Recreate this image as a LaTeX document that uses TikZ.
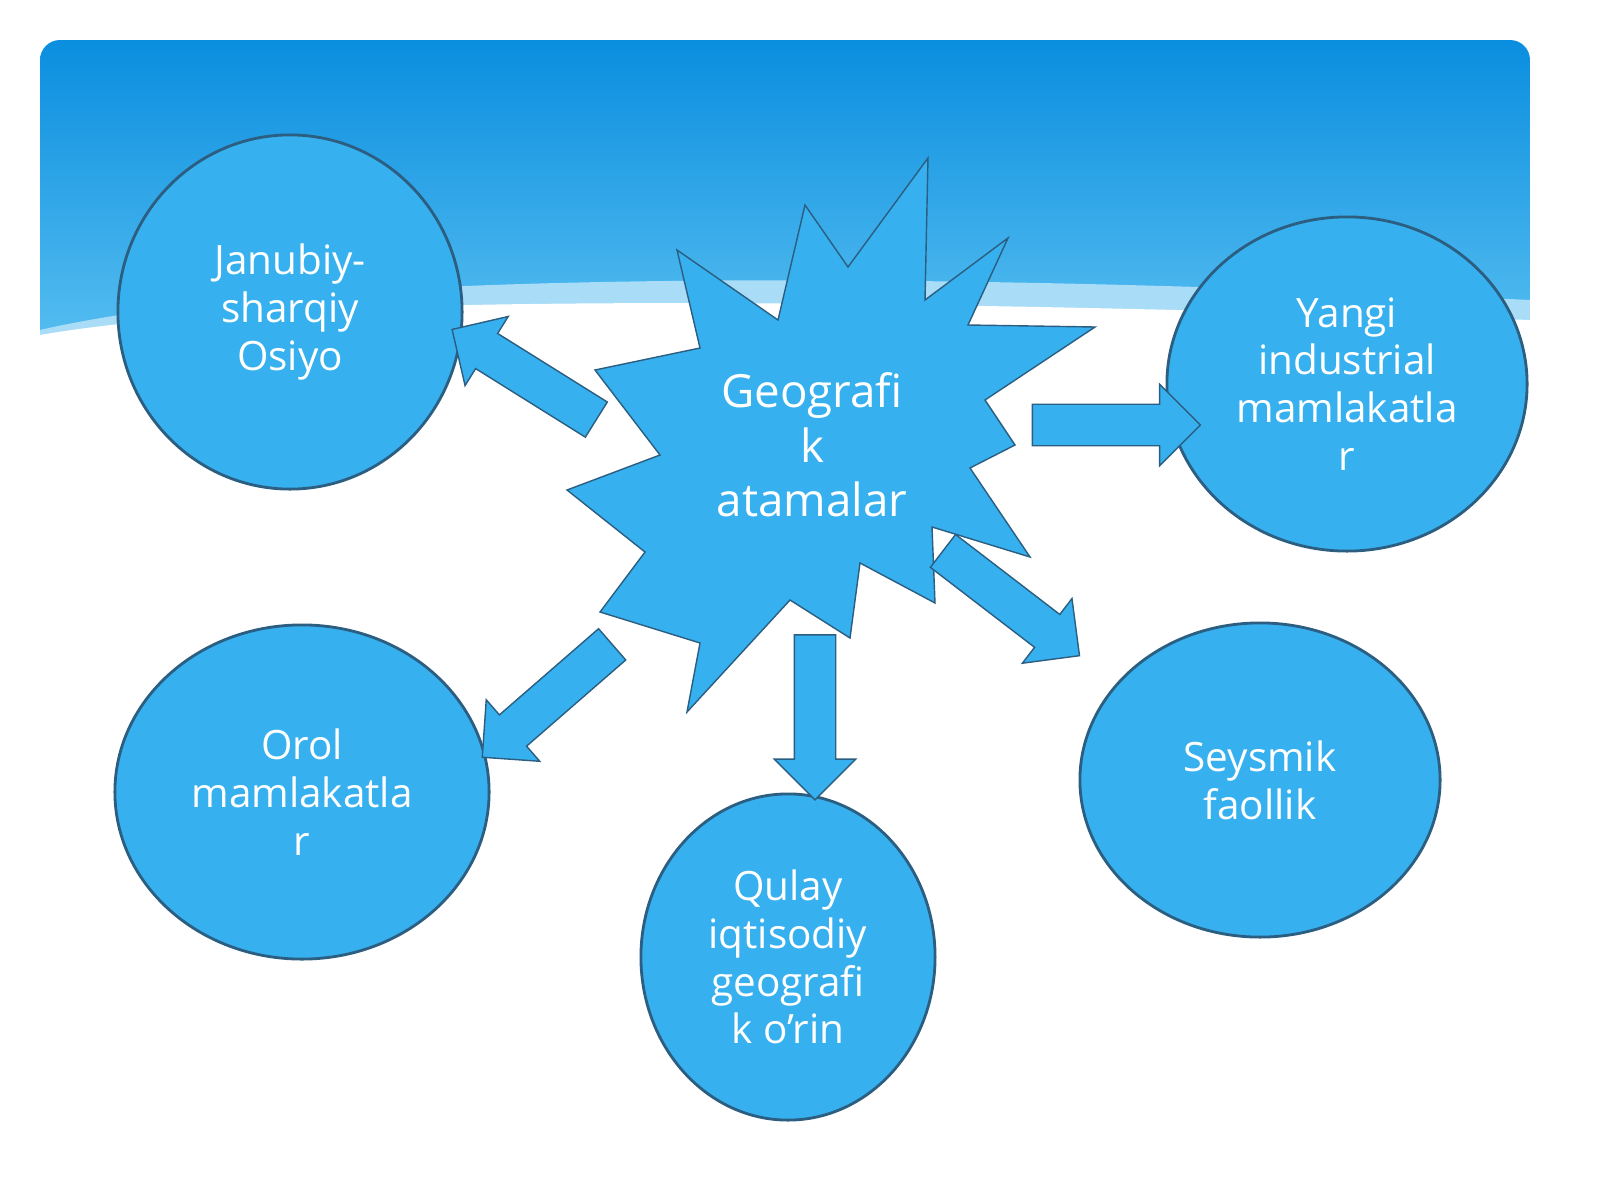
\documentclass[tikz,border=0pt]{standalone}
\usepackage{fontspec}
\setmainfont{Open Sans}
\usetikzlibrary{shapes.arrows}
\definecolor{bubble}{HTML}{36B0EE}
\definecolor{rim}{HTML}{2B5E80}
\definecolor{skytop}{HTML}{0A8EDF}
\definecolor{skylow}{HTML}{55BDF0}
\definecolor{haze}{HTML}{A8DCF7}
\tikzset{
  bub/.style={draw=rim, thick, fill=bubble, ellipse, text=white, align=center,
    font=\fontsize{11.5}{13.6}\selectfont},
  fat/.style={draw=rim, fill=bubble, single arrow, minimum width=0.8cm,
    single arrow head extend=0.2cm, single arrow head indent=0cm, inner sep=0.2cm},
}
\usetikzlibrary{shapes.geometric}
\begin{document}
\begin{tikzpicture}[x=0.01cm, y=-0.01cm]
\useasboundingbox (0,0) rectangle (1600,1200);
\fill[white] (0,0) rectangle (1600,1200);
% panel
\begin{scope}
\clip[rounded corners=0.2cm] (40,40) rectangle (1530,1170);
\shade[top color=skytop, bottom color=skylow] (40,40) rectangle (1530,340);
\fill[haze] (40,330) .. controls (300,270) and (900,270) .. (1530,300) -- (1530,380) -- (40,380) -- cycle;
\fill[white] (40,335) .. controls (300,290) and (900,300) .. (1530,320) -- (1530,1170) -- (40,1170) -- cycle;
\end{scope}

% star
\filldraw[draw=rim, fill=bubble] (928,158) -- (925,300) -- (1008,238) -- (968,325) -- (1095,327)
  -- (985,400) -- (1015,445) -- (970,468) -- (1030,557) -- (932,527) -- (935,603)
  -- (860,563) -- (850,638) -- (790,600) -- (687,712) -- (700,643) -- (600,612)
  -- (645,552) -- (567,490) -- (660,455) -- (595,370) -- (700,348) -- (677,250)
  -- (778,320) -- (805,205) -- (848,267) -- cycle;
\node[text=white, align=center, font=\fontsize{13}{15.5}\selectfont] (geo) at (812,445) {Geografi\\k\\atamalar};

\node[bub, minimum width=3.44cm, minimum height=3.54cm] (jan) at (290,312) {Janubiy-\\sharqiy\\Osiyo};
\node[bub, minimum width=3.6cm, minimum height=3.34cm] (yan) at (1347,384) {Yangi\\industrial\\mamlakatla\\r};
\node[bub, minimum width=3.74cm, minimum height=3.34cm] (oro) at (302,792) {Orol\\mamlakatla\\r};
\node[bub, minimum width=2.94cm, minimum height=3.26cm] (qul) at (788,957) {Qulay\\iqtisodiy\\geografi\\k o’rin};
\node[bub, minimum width=3.6cm, minimum height=3.14cm] (sey) at (1260,780) {Seysmik\\faollik};

% arrows
\node[fat, minimum height=1.7cm, rotate=148] (a1) at (533,380) {};
\node[fat, minimum height=1.68cm] (a2) at (1106,425) {};
\node[fat, minimum height=1.72cm, rotate=-37.5] (a3) at (1003,597) {};
\node[fat, minimum height=1.65cm, rotate=-90] (a4) at (815,707) {};
\node[fat, minimum height=1.72cm, rotate=-139] (a5) at (555,694) {};
\end{tikzpicture}
\end{document}
